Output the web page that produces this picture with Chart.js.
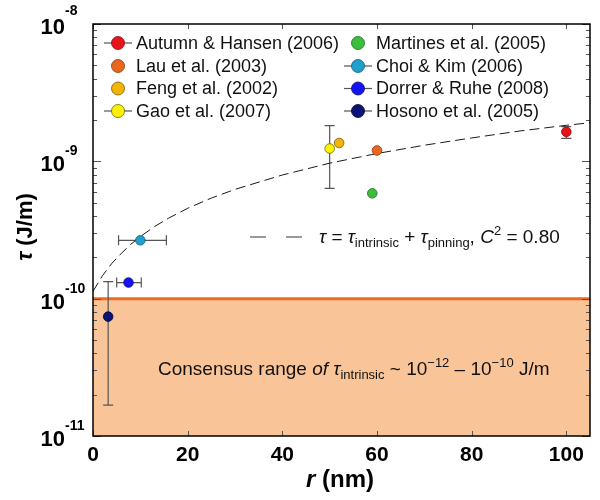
<!DOCTYPE html>
<html>
<head>
<meta charset="utf-8">
<script src="https://cdn.jsdelivr.net/npm/chart.js@4.4.1/dist/chart.umd.min.js"></script>
<style>
  html, body { margin: 0; padding: 0; background: #ffffff; }
  #wrap { width: 600px; height: 500px; }
</style>
</head>
<body>
<div id="wrap"><canvas id="c" width="600" height="500"></canvas></div>
<script>
// ---------------- data ----------------
const seriesNames = [
  "Autumn & Hansen (2006)", "Lau et al. (2003)", "Feng et al. (2002)", "Gao et al. (2007)",
  "Martines et al. (2005)", "Choi & Kim (2006)", "Dorrer & Ruhe (2008)", "Hosono et al. (2005)"
];
const seriesColors = ["#E8141B", "#E8661E", "#F3B404", "#FFF200", "#3DBD3D", "#1FA0CA", "#1414F0", "#0A1478"];
const seriesEdge   = ["#8A0A0A", "#8A3A0A", "#7A5A00", "#6A6A00", "#1E6E1E", "#0E5A78", "#0A0A80", "#000030"];
const rValues   = [100, 60, 52, 50, 59, 10, 7.5, 3.2];            // nm
const tauValues = [1.64e-9, 1.20e-9, 1.36e-9, 1.24e-9, 5.85e-10, 2.66e-10, 1.31e-10, 7.4e-11]; // J/m
const tauErrLow  = [1.47e-9, null, null, 6.35e-10, null, null, null, 1.68e-11];
const tauErrHigh = [1.79e-9, null, null, 1.82e-9,  null, null, null, 1.33e-10];
const rErrLow    = [null, null, null, null, null, 5.4, 5.0, null];
const rErrHigh   = [null, null, null, null, null, 15.5, 10.2, null];
const legendLine = [true, false, false, true, false, true, true, true];

// fit curve
const fitR   = [0, 2, 4, 6, 8, 10, 13, 16, 20, 25, 30, 40, 50, 60, 70, 80, 90, 100, 105];
const fitTau = [1.13e-10, 1.47e-10, 1.81e-10, 2.14e-10, 2.49e-10, 2.83e-10, 3.35e-10, 3.86e-10, 4.55e-10,
                5.40e-10, 6.25e-10, 7.95e-10, 9.70e-10, 1.14e-9, 1.31e-9, 1.48e-9, 1.66e-9, 1.83e-9, 1.91e-9];

// consensus range upper bound
const consensusR   = [0, 105];
const consensusTau = [1e-10, 1e-10];

// axes
const xMin = 0, xMax = 105;
const yMin = 1e-11, yMax = 1e-8;
const xTickValues = [0, 20, 40, 60, 80, 100];
const yDecades = [-8, -9, -10, -11];

// ---------------- chart ----------------
const FONT = '"Liberation Sans", Arial, Helvetica, sans-serif';

const datasets = [];
datasets.push({
  label: "consensus",
  data: consensusR.map((r, i) => ({ x: r, y: consensusTau[i] })),
  showLine: true, fill: 'start',
  backgroundColor: '#F9C498', borderColor: '#F26A1E', borderWidth: 3,
  pointRadius: 0, order: 10
});
datasets.push({
  label: "fit",
  data: fitR.map((r, i) => ({ x: r, y: fitTau[i] })),
  showLine: true, fill: false,
  borderColor: '#1a1a1a', borderWidth: 1, borderDash: [10, 5],
  pointRadius: 0, order: 5
});
seriesNames.forEach((name, i) => {
  datasets.push({
    label: name,
    data: [{ x: rValues[i], y: tauValues[i] }],
    showLine: false,
    pointRadius: 4.8,
    pointBackgroundColor: seriesColors[i],
    pointBorderColor: seriesEdge[i],
    pointBorderWidth: 0.8,
    order: 0
  });
});

function drawRuns(ctx, x, y, runs, align) {
  let total = 0;
  runs.forEach(r => { ctx.font = r.font; total += ctx.measureText(r.t).width; });
  let cx = x;
  if (align === 'center') cx = x - total / 2;
  if (align === 'right') cx = x - total;
  ctx.textAlign = 'left';
  ctx.textBaseline = 'alphabetic';
  runs.forEach(r => {
    ctx.font = r.font;
    ctx.fillText(r.t, cx, y + (r.dy || 0));
    cx += ctx.measureText(r.t).width;
  });
}

const errorBarPlugin = {
  id: 'errorBars',
  afterDatasetDraw(chart, args) {
    if (args.index !== 0) return;
    const ctx = chart.ctx, xs = chart.scales.x, ys = chart.scales.y;
    ctx.save();
    ctx.strokeStyle = '#555555';
    ctx.lineWidth = 1.2;
    for (let i = 0; i < seriesNames.length; i++) {
      const px = xs.getPixelForValue(rValues[i]);
      const py = ys.getPixelForValue(tauValues[i]);
      if (tauErrLow[i] !== null) {
        const y1 = ys.getPixelForValue(tauErrLow[i]);
        const y2 = ys.getPixelForValue(tauErrHigh[i]);
        ctx.beginPath();
        ctx.moveTo(px, y1); ctx.lineTo(px, y2);
        ctx.moveTo(px - 5, y1); ctx.lineTo(px + 5, y1);
        ctx.moveTo(px - 5, y2); ctx.lineTo(px + 5, y2);
        ctx.stroke();
      }
      if (rErrLow[i] !== null) {
        const x1 = xs.getPixelForValue(rErrLow[i]);
        const x2 = xs.getPixelForValue(rErrHigh[i]);
        ctx.beginPath();
        ctx.moveTo(x1, py); ctx.lineTo(x2, py);
        ctx.moveTo(x1, py - 5); ctx.lineTo(x1, py + 5);
        ctx.moveTo(x2, py - 5); ctx.lineTo(x2, py + 5);
        ctx.stroke();
      }
    }
    ctx.restore();
  }
};

const decorPlugin = {
  id: 'decor',
  afterDatasetsDraw(chart) {
    const ctx = chart.ctx, a = chart.chartArea, xs = chart.scales.x, ys = chart.scales.y;
    ctx.save();
    // ticks
    ctx.strokeStyle = '#555555';
    ctx.lineWidth = 1;
    ctx.beginPath();
    yDecades.forEach(d => {
      for (let m = 1; m <= 9; m++) {
        const v = m * Math.pow(10, d);
        if (v < yMin * 0.999 || v > yMax * 1.001) continue;
        const py = Math.round(ys.getPixelForValue(v)) + 0.5;
        const len = m === 1 ? 8 : 4;
        ctx.moveTo(a.left, py); ctx.lineTo(a.left + len, py);
        ctx.moveTo(a.right, py); ctx.lineTo(a.right - len, py);
      }
    });
    xTickValues.forEach(v => {
      const px = Math.round(xs.getPixelForValue(v)) + 0.5;
      ctx.moveTo(px, a.bottom); ctx.lineTo(px, a.bottom - 5);
      ctx.moveTo(px, a.top); ctx.lineTo(px, a.top + 5);
    });
    ctx.stroke();
    // frame
    ctx.strokeStyle = '#000000';
    ctx.lineWidth = 1.5;
    ctx.strokeRect(a.left, a.top, a.right - a.left, a.bottom - a.top);

    ctx.fillStyle = '#000000';
    // y tick labels
    yDecades.forEach(d => {
      const py = ys.getPixelForValue(Math.pow(10, d));
      ctx.font = 'bold 22px ' + FONT;
      ctx.textAlign = 'right'; ctx.textBaseline = 'alphabetic';
      ctx.fillText('10', 65, py + 10);
      ctx.font = 'bold 14px ' + FONT;
      ctx.textAlign = 'left';
      ctx.fillText('-' + Math.abs(d), 65, py - (d === -8 ? 9 : 6));
    });
    // x tick labels
    ctx.font = 'bold 21px ' + FONT;
    ctx.textAlign = 'center'; ctx.textBaseline = 'alphabetic';
    xTickValues.forEach(v => {
      ctx.fillText(String(v), xs.getPixelForValue(v), 461);
    });
    // x title
    drawRuns(ctx, 340, 487, [
      { t: 'r', font: 'italic bold 24px ' + FONT },
      { t: ' (nm)', font: 'bold 24px ' + FONT }
    ], 'center');
    // y title
    ctx.save();
    ctx.translate(32, 227);
    ctx.rotate(-Math.PI / 2);
    drawRuns(ctx, 0, 0, [
      { t: 'τ', font: 'italic bold 22px ' + FONT },
      { t: ' (J/m)', font: 'bold 22px ' + FONT }
    ], 'center');
    ctx.restore();

    // legend
    const legX = [118, 358];
    const legY = [43, 66, 88.5, 111];
    for (let i = 0; i < seriesNames.length; i++) {
      const col = Math.floor(i / 4), row = i % 4;
      const mx = legX[col], my = legY[row];
      if (legendLine[i]) {
        ctx.strokeStyle = '#555555'; ctx.lineWidth = 1.2;
        ctx.beginPath(); ctx.moveTo(mx - 14, my); ctx.lineTo(mx + 14, my); ctx.stroke();
      }
      ctx.beginPath();
      ctx.arc(mx, my, 6.5, 0, Math.PI * 2);
      ctx.fillStyle = seriesColors[i]; ctx.fill();
      ctx.strokeStyle = seriesEdge[i]; ctx.lineWidth = 0.8; ctx.stroke();
      ctx.fillStyle = '#111111';
      ctx.font = '18px ' + FONT;
      ctx.textAlign = 'left'; ctx.textBaseline = 'middle';
      ctx.fillText(seriesNames[i], mx + 18, my + 1);
    }

    // fit annotation
    ctx.strokeStyle = '#333333'; ctx.lineWidth = 1;
    ctx.setLineDash([16, 20]);
    ctx.beginPath(); ctx.moveTo(250, 237); ctx.lineTo(303, 237); ctx.stroke();
    ctx.setLineDash([]);
    ctx.fillStyle = '#111111';
    const f = '19px ' + FONT, fi = 'italic 19px ' + FONT, fs = '13px ' + FONT;
    drawRuns(ctx, 319, 243, [
      { t: 'τ', font: fi }, { t: ' = ', font: f }, { t: 'τ', font: fi },
      { t: 'intrinsic', font: fs, dy: 4 }, { t: ' + ', font: f }, { t: 'τ', font: fi },
      { t: 'pinning', font: fs, dy: 4 }, { t: ', ', font: f }, { t: 'C', font: fi },
      { t: '2', font: fs, dy: -8 }, { t: ' = 0.80', font: f }
    ], 'left');
    // consensus annotation
    drawRuns(ctx, 158, 375, [
      { t: 'Consensus range ', font: f }, { t: 'of', font: fi }, { t: ' ', font: f },
      { t: 'τ', font: fi }, { t: 'intrinsic', font: fs, dy: 4 }, { t: ' ~ 10', font: f },
      { t: '−12', font: fs, dy: -8 }, { t: ' – 10', font: f }, { t: '−10', font: fs, dy: -8 },
      { t: ' J/m', font: f }
    ], 'left');
    ctx.restore();
  }
};

new Chart(document.getElementById('c'), {
  type: 'scatter',
  data: { datasets },
  options: {
    responsive: false,
    animation: false,
    events: [],
    layout: { padding: { left: 93, top: 24, right: 10, bottom: 64 } },
    plugins: { legend: { display: false }, tooltip: { enabled: false }, title: { display: false } },
    scales: {
      x: { type: 'linear', min: xMin, max: xMax, display: false },
      y: { type: 'logarithmic', min: yMin, max: yMax, display: false }
    }
  },
  plugins: [errorBarPlugin, decorPlugin]
});
</script>
</body>
</html>
